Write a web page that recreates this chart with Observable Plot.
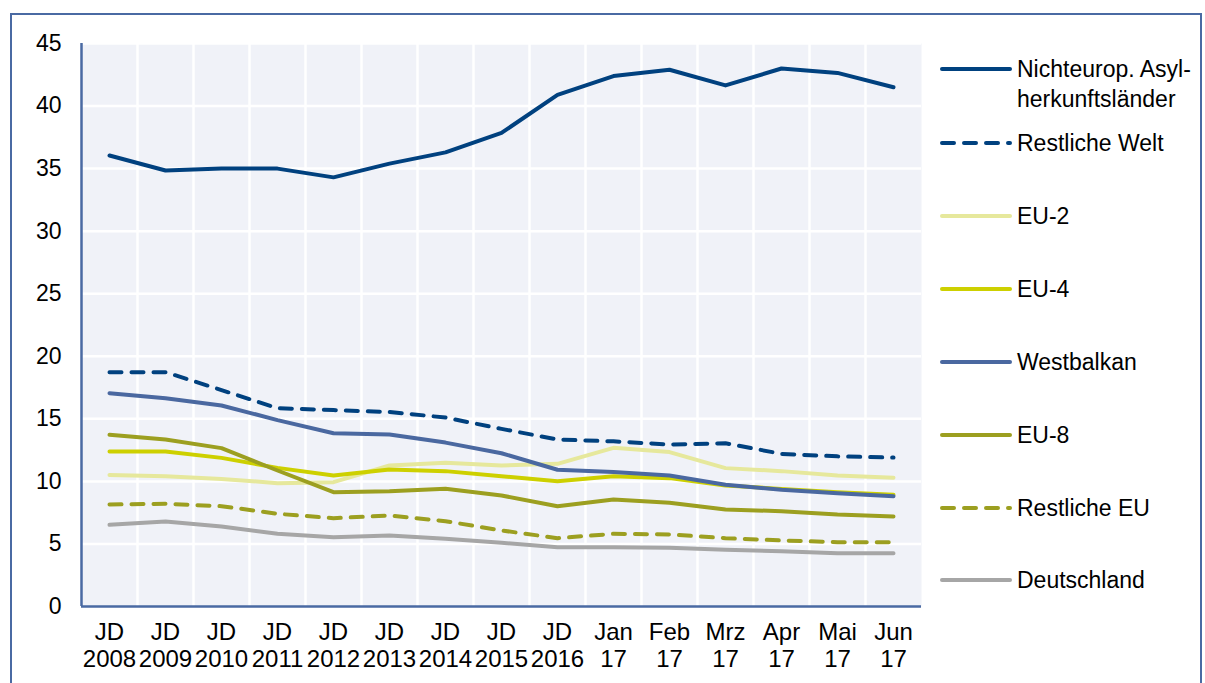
<!DOCTYPE html>
<html>
<head>
<meta charset="utf-8">
<script src="https://cdn.jsdelivr.net/npm/d3@7"></script>
<script src="https://cdn.jsdelivr.net/npm/@observablehq/plot@0.6"></script>
<style>
  html, body { margin: 0; padding: 0; background: #fff; overflow: hidden; }
  body { width: 1205px; height: 683px; position: relative; font-family: "Liberation Sans", Arial, sans-serif; }
  #frame { position: absolute; left: 10px; top: 13px; width: 1188px; height: 700px; border: 2px solid #4a6aa3; box-sizing: content-box; pointer-events: none; }
  #chart { position: absolute; left: 0; top: 0; }
  #legend { position: absolute; left: 0; top: 0; }
  .item { position: absolute; left: 940px; display: flex; align-items: flex-start; }
  .item svg { display: block; }
  .item .lbl { position: absolute; left: 77px; font-size: 23px; line-height: 30px; color: #000; white-space: nowrap; }
</style>
</head>
<body>
<div id="frame"></div>
<div id="chart"></div>
<div id="legend"></div>
<script>
// ---- Data ----
const categories = ["JD\n2008","JD\n2009","JD\n2010","JD\n2011","JD\n2012","JD\n2013","JD\n2014","JD\n2015","JD\n2016","Jan\n17","Feb\n17","Mrz\n17","Apr\n17","Mai\n17","Jun\n17"];
const yTicks = [0, 5, 10, 15, 20, 25, 30, 35, 40, 45];

const nichteurop     = [36.05, 34.85, 35.0, 35.0, 34.3, 35.4, 36.3, 37.85, 40.9, 42.4, 42.9, 41.65, 43.0, 42.65, 41.5];
const restlicheWelt  = [18.73, 18.73, 17.3, 15.85, 15.7, 15.55, 15.1, 14.2, 13.35, 13.2, 12.95, 13.05, 12.2, 12.0, 11.9];
const eu2            = [10.52, 10.42, 10.2, 9.86, 9.94, 11.27, 11.48, 11.27, 11.4, 12.68, 12.34, 11.06, 10.82, 10.47, 10.29];
const eu4            = [12.39, 12.39, 11.88, 11.08, 10.47, 10.95, 10.82, 10.42, 10.02, 10.42, 10.26, 9.67, 9.4, 9.14, 8.93];
const westbalkan     = [17.05, 16.65, 16.07, 14.9, 13.85, 13.75, 13.1, 12.25, 10.93, 10.75, 10.47, 9.73, 9.33, 9.06, 8.82];
const eu8            = [13.72, 13.35, 12.66, 10.87, 9.14, 9.22, 9.41, 8.87, 8.02, 8.55, 8.29, 7.75, 7.62, 7.35, 7.19];
const restlicheEU    = [8.15, 8.21, 8.02, 7.41, 7.06, 7.27, 6.82, 6.08, 5.46, 5.81, 5.76, 5.46, 5.28, 5.14, 5.14];
const deutschland    = [6.53, 6.79, 6.39, 5.81, 5.54, 5.68, 5.41, 5.09, 4.74, 4.74, 4.69, 4.53, 4.42, 4.26, 4.26];

const seriesNames  = ["Nichteurop. Asyl-\nherkunftsländer", "Restliche Welt", "EU-2", "EU-4", "Westbalkan", "EU-8", "Restliche EU", "Deutschland"];
const seriesValues = [nichteurop, restlicheWelt, eu2, eu4, westbalkan, eu8, restlicheEU, deutschland];
const seriesColors = ["#00417f", "#00417f", "#e6e89c", "#cdd000", "#4a68a0", "#9c9f20", "#9c9f20", "#a6a6a6"];
const seriesDashed = [false, true, false, false, false, false, true, false];

// ---- Build ----
const W = 1205, H = 683;
const axisColor = "#4a6aa3";
const dash = "12,10";

const rows = [];
seriesValues.forEach((vals, s) => vals.forEach((v, i) => rows.push({s, i, v})));
const boundaries = categories.slice(1).map((_, i) => i + 0.5);

const marks = [
  Plot.frame({fill: "#f0f2f8", stroke: null}),
  Plot.ruleY(yTicks.slice(1), {stroke: "#fff", strokeWidth: 2.5}),
  Plot.ruleX(boundaries, {stroke: "#fff", strokeWidth: 2.5}),
  Plot.axisY({ticks: yTicks, tickSize: 0, tickPadding: 20, fontSize: 23, label: null, fill: "#000"}),
  Plot.axisX({ticks: categories.map((_, i) => i), tickFormat: i => categories[i], tickSize: 0, tickPadding: 15, fontSize: 24, lineHeight: 1.1, label: null, fill: "#000"})
];
seriesValues.forEach((vals, s) => {
  marks.push(Plot.line(rows.filter(d => d.s === s), {
    x: "i", y: "v",
    stroke: seriesColors[s], strokeWidth: 4,
    strokeDasharray: seriesDashed[s] ? dash : null,
    strokeLinecap: "round", strokeLinejoin: "round"
  }));
});
marks.push(Plot.ruleX([-0.5], {stroke: axisColor, strokeWidth: 2.5}));
marks.push(Plot.ruleY([0], {stroke: axisColor, strokeWidth: 2.5}));

const chart = Plot.plot({
  width: W, height: H,
  marginLeft: 81, marginRight: W - 921, marginTop: 43, marginBottom: H - 606,
  style: {fontFamily: "'Liberation Sans', Arial, sans-serif", fontSize: "22px", background: "transparent", overflow: "visible"},
  x: {type: "linear", domain: [-0.5, categories.length - 0.5], axis: null},
  y: {domain: [0, 45], axis: null},
  marks
});
document.getElementById("chart").appendChild(chart);

// ---- Legend ----
const legend = document.getElementById("legend");
const legendY = [69, 143, 216, 289, 362, 435, 508, 580];
seriesNames.forEach((name, s) => {
  const item = document.createElement("div");
  item.className = "item";
  item.style.top = (legendY[s] - 15) + "px";
  const svg = d3.create("svg").attr("width", 74).attr("height", 30);
  svg.append("line").attr("x1", 2).attr("x2", 70).attr("y1", 15).attr("y2", 15)
    .attr("stroke", seriesColors[s]).attr("stroke-width", 4).attr("stroke-linecap", "round")
    .attr("stroke-dasharray", seriesDashed[s] ? dash : null);
  item.appendChild(svg.node());
  const lbl = document.createElement("div");
  lbl.className = "lbl";
  lbl.innerHTML = name.split("\n").join("<br>");
  item.appendChild(lbl);
  legend.appendChild(item);
});
</script>
</body>
</html>
